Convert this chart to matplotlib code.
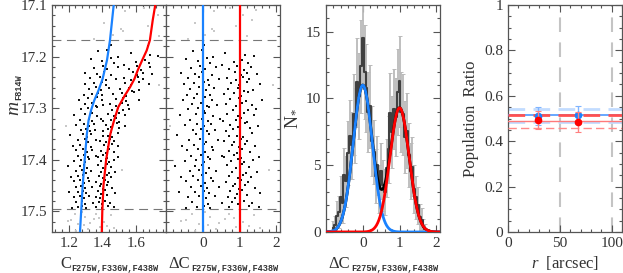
import numpy as np
import matplotlib
matplotlib.use("Agg")
import matplotlib.pyplot as plt
from matplotlib.ticker import MultipleLocator, FixedLocator, FuncFormatter

plt.rcParams['font.family'] = ['Liberation Serif', 'DejaVu Serif']
plt.rcParams['mathtext.fontset'] = 'custom'
plt.rcParams['mathtext.rm'] = 'Liberation Serif'
plt.rcParams['mathtext.it'] = 'Liberation Serif:italic'

TXT = '#333333'
SP = '#555555'
BLUE = '#1a82ff'
RED = '#ff0000'

# ---------------- data ----------------
# fiducial lines (m_F814W, C)
blue_m = [17.10, 17.168, 17.207, 17.243, 17.265, 17.285, 17.304, 17.324, 17.35, 17.40, 17.45, 17.50, 17.54]
blue_c = [1.468, 1.446, 1.428, 1.402, 1.378, 1.352, 1.333, 1.318, 1.308, 1.295, 1.283, 1.274, 1.267]
red_m = [17.10, 17.129, 17.168, 17.188, 17.207, 17.226, 17.243, 17.259, 17.275, 17.298, 17.324, 17.35, 17.40, 17.45, 17.50, 17.54]
red_c = [1.716, 1.701, 1.684, 1.665, 1.638, 1.612, 1.592, 1.566, 1.535, 1.495, 1.47, 1.448, 1.423, 1.407, 1.400, 1.397]

# selected stars (m_F814W, Delta C)
star_m = [
 17.190, 17.187, 17.178, 17.200, 17.194, 17.180, 17.197, 17.199,
 17.205, 17.208, 17.203, 17.212, 17.217, 17.210, 17.206, 17.213,
 17.222, 17.219, 17.225, 17.221, 17.224, 17.218, 17.226, 17.220,
 17.231, 17.233, 17.229, 17.235, 17.230, 17.236, 17.232, 17.234,
 17.242, 17.240, 17.245, 17.243, 17.241, 17.246, 17.239, 17.244,
 17.252, 17.250, 17.255, 17.254, 17.251, 17.256, 17.249, 17.253,
 17.262, 17.259, 17.265, 17.261, 17.263, 17.260, 17.266, 17.264,
 17.272, 17.270, 17.275, 17.274, 17.271, 17.276, 17.269, 17.273,
 17.285, 17.281, 17.279, 17.284, 17.282, 17.280, 17.286, 17.285,
 17.292, 17.290, 17.295, 17.293, 17.291, 17.296, 17.289, 17.294,
 17.302, 17.300, 17.305, 17.298, 17.303, 17.299, 17.304, 17.301,
 17.312, 17.310, 17.315, 17.313, 17.311, 17.316, 17.309, 17.314,
 17.322, 17.320, 17.325, 17.321, 17.323, 17.319, 17.326, 17.324,
 17.332, 17.330, 17.335, 17.331, 17.333, 17.336, 17.329, 17.334,
 17.342, 17.340, 17.345, 17.343, 17.341, 17.346, 17.339, 17.344,
 17.352, 17.350, 17.355, 17.351, 17.353, 17.356, 17.349, 17.354,
 17.362, 17.360, 17.365, 17.361, 17.363, 17.366, 17.359, 17.364,
 17.372, 17.370, 17.375, 17.374, 17.371, 17.376, 17.369, 17.373,
 17.382, 17.380, 17.385, 17.381, 17.383, 17.386, 17.379, 17.384,
 17.392, 17.390, 17.395, 17.393, 17.391, 17.396, 17.395, 17.394,
 17.402, 17.400, 17.405, 17.398, 17.403, 17.399, 17.404, 17.401,
 17.412, 17.410, 17.415, 17.413, 17.411, 17.416, 17.409, 17.414,
 17.422, 17.420, 17.425, 17.421, 17.423, 17.419, 17.426, 17.424,
 17.432, 17.430, 17.435, 17.434, 17.431, 17.436, 17.429, 17.433,
 17.442, 17.440, 17.445, 17.441, 17.443, 17.446, 17.439, 17.444,
 17.452, 17.450, 17.455, 17.453, 17.451, 17.456, 17.449, 17.454,
 17.462, 17.460, 17.465, 17.463, 17.461, 17.466, 17.459, 17.464,
 17.472, 17.470, 17.475, 17.471, 17.473, 17.476, 17.469, 17.474,
 17.482, 17.480, 17.485, 17.483, 17.481, 17.486, 17.479, 17.484,
 17.492, 17.490, 17.494, 17.493, 17.491, 17.494, 17.489, 17.492]
star_dc = [
 -0.27, -0.03, 0.04, 0.29, 0.61, 1.00, 1.16, 1.39,
 -0.46, -0.13, 0.11, 0.21, 0.53, 0.84, 1.07, 1.23,
 -0.33, -0.07, 0.06, 0.37, 0.71, 0.93, 1.11, 1.31,
 -0.58, -0.21, -0.01, 0.24, 0.87, 1.03, 1.19, 1.47,
 -0.41, -0.09, 0.13, 0.43, 0.66, 0.91, 1.09, 1.27,
 -0.23, 0.03, 0.17, -0.51, 0.77, 0.99, 1.21, 1.56,
 -0.34, -0.11, 0.09, 0.31, 0.69, 0.97, 1.13, 1.36,
 -0.16, 0.01, 0.19, -0.44, 0.86, 1.05, 1.24, 0.57,
 -0.54, -0.24, 0.05, 0.26, 0.74, 0.98, 1.17, 1.60,
 -0.29, -0.05, 0.12, 0.39, 0.63, 0.89, 1.06, 1.33,
 -0.39, -0.14, 0.02, 0.18, 0.81, 1.01, 1.23, 1.44,
 -0.19, 0.07, 0.27, -0.63, 0.67, 0.95, 1.11, 1.38,
 -0.36, -0.02, 0.15, 0.46, 0.89, 1.04, 1.19, 0.55,
 -0.47, -0.16, 0.04, 0.23, 0.73, 0.96, 1.14, 1.51,
 -0.27, -0.06, 0.11, 0.34, 0.83, 1.02, 1.28, 0.64,
 -0.71, -0.18, 0.01, 0.16, 0.92, 1.09, 1.34, 0.72,
 -0.37, -0.08, 0.08, 0.41, 0.59, 0.86, 1.03, 1.21,
 -0.25, 0.02, 0.24, -0.56, 0.79, 0.99, 1.16, 1.43,
 -0.43, -0.12, 0.06, 0.29, 0.70, 0.94, 1.07, 1.29,
 -0.31, -0.04, 0.13, 0.51, 0.84, 1.04, 1.52, 0.58,
 -0.49, -0.19, 0.04, 0.21, 0.76, 0.97, 1.12, 1.37,
 -0.22, -0.01, 0.16, -0.76, 0.66, 0.91, 1.06, 1.25,
 -0.35, -0.10, 0.10, 0.36, 0.80, 1.00, 1.18, 1.47,
 -0.26, -0.02, 0.22, -0.59, 0.72, 0.95, 1.10, 1.31,
 -0.45, -0.14, 0.07, 0.28, 0.62, 0.87, 1.03, 1.22,
 -0.32, -0.06, 0.12, 0.44, 0.82, 0.98, 1.15, 1.41,
 -0.20, 0.02, 0.18, -0.66, 0.75, 0.92, 1.08, 1.55,
 -0.40, -0.10, 0.08, 0.33, 0.68, 1.01, 1.20, 0.88,
 -0.28, 0.00, 0.14, 0.52, 0.80, 0.96, 1.12, 1.34,
 -0.16, 0.04, 0.20, -0.46, 0.70, 1.00, 1.25, 1.53]

# other (non selected) stars, grey
grey_m = [17.106, 17.110, 17.146, 17.150, 17.112, 17.120, 17.135, 17.160, 17.165, 17.130, 17.140, 17.158,
          17.505, 17.510, 17.515, 17.520, 17.525, 17.530, 17.508, 17.518, 17.535, 17.512, 17.528, 17.502,
          17.538, 17.522, 17.532, 17.516, 17.506, 17.526, 17.255, 17.335, 17.420]
grey_dc = [0.74, 1.46, 0.24, 0.30, 0.30, 1.10, -0.20, 1.20, -0.40, 1.35, 0.90, 0.05,
           -0.30, 0.20, 0.60, 1.10, -0.10, 0.90, 1.40, -0.60, 0.35, 0.85, 1.25, 0.05,
           -0.20, 0.45, 1.55, -0.45, 0.70, 0.15, 1.90, -0.90, 1.80]

# histogram of Delta C
hist_x = [-0.80, -0.75, -0.70, -0.65, -0.60, -0.55, -0.50, -0.45, -0.40, -0.35, -0.30, -0.25, -0.20,
          -0.15, -0.10, -0.05, 0.00, 0.05, 0.10, 0.15, 0.20, 0.25, 0.30, 0.35, 0.40, 0.45, 0.50,
          0.55, 0.60, 0.65, 0.70, 0.75, 0.80, 0.85, 0.90, 0.95, 1.00, 1.05, 1.10, 1.15, 1.20,
          1.25, 1.30, 1.35, 1.40, 1.45, 1.50, 1.55, 1.60, 1.65, 1.70]
hist_n = [0.3, 0.5, 1.2, 1.5, 2.6, 2.2, 4.3, 3.8, 5.9, 7.2, 6.5, 8.8, 8.0,
          11.2, 10.2, 12.4, 14.5, 12.0, 10.8, 9.0, 9.4, 6.8, 6.0, 4.2, 5.0, 3.2, 4.6,
          3.5, 3.0, 4.8, 6.2, 8.9, 7.5, 9.2, 8.6, 10.5, 11.3, 9.0, 8.8, 7.1, 7.6,
          5.8, 4.6, 4.9, 3.2, 2.6, 2.0, 1.1, 0.9, 0.4, 0.2]
hist_err = [0.5, 0.7, 1.1, 1.2, 1.6, 1.5, 2.0, 1.9, 2.4, 2.7, 2.5, 3.0, 2.8,
            3.3, 3.2, 3.5, 3.8, 3.5, 3.3, 3.0, 3.1, 2.6, 2.4, 2.0, 2.2, 1.8, 2.1,
            1.9, 1.7, 2.2, 2.5, 3.0, 2.7, 3.0, 2.9, 3.2, 3.4, 3.0, 3.0, 2.7, 2.8,
            2.4, 2.1, 2.2, 1.8, 1.6, 1.4, 1.0, 0.9, 0.6, 0.4]

# two-gaussian fit parameters (amplitude, centre, sigma)
fit_blue = (11.0, 0.0, 0.26)
fit_red = (9.3, 1.0, 0.26)

# population ratios vs radius
r_pts = [29.0, 68.0]
ratio_blue = [0.511, 0.517]
ratio_blue_err = [0.040, 0.040]
ratio_red = [0.493, 0.485]
ratio_red_err = [0.040, 0.045]
mean_blue, sig_blue = 0.514, 0.030
mean_red, sig_red = 0.487, 0.030
r_bounds = [50, 100]

# ---------------- figure ----------------
W, H = 623, 273
fig = plt.figure(figsize=(W / 100, H / 100), dpi=100)
renderer = fig.canvas.get_renderer()

def axpos(x0, x1, y0=5, y1=232):
    return [x0 / W, 1 - y1 / H, (x1 - x0) / W, (y1 - y0) / H]

ax1 = fig.add_axes(axpos(52, 166))
ax2 = fig.add_axes(axpos(166, 280))
ax3 = fig.add_axes(axpos(326, 440))
ax4 = fig.add_axes(axpos(508, 622))

def style(ax):
    for s in ax.spines.values():
        s.set_color(SP)
        s.set_linewidth(0.9)
    ax.tick_params(which='both', direction='in', top=True, right=True,
                   color=SP, labelcolor=TXT, labelsize=11, width=0.8)
    ax.tick_params(which='major', length=5)
    ax.tick_params(which='minor', length=2.5)

SUBFONT = dict(family='Liberation Mono', fontsize=6.2, weight='bold', color=TXT)

def hlabel(xc, yb, main, sub, ms=12):
    t1 = fig.text(0, 0, main, fontsize=ms, color=TXT, ha='left', va='baseline')
    t2 = fig.text(0, 0, sub, ha='left', va='baseline', **SUBFONT)
    w1 = t1.get_window_extent(renderer).width
    w2 = t2.get_window_extent(renderer).width
    x0 = xc - (w1 + w2) / 2
    t1.set_position((x0 / W, 1 - yb / H))
    t2.set_position(((x0 + w1 + 0.5) / W, 1 - (yb + 3) / H))

def vlabel(xb, yc, main, sub, ms=14, style_='italic'):
    t1 = fig.text(0, 0, main, fontsize=ms, color=TXT, style=style_, rotation=90,
                  rotation_mode='anchor', ha='left', va='baseline')
    t2 = fig.text(0, 0, sub, rotation=90, rotation_mode='anchor', ha='left',
                  va='baseline', **SUBFONT)
    h1 = t1.get_window_extent(renderer).height
    h2 = t2.get_window_extent(renderer).height
    y0 = yc + (h1 + h2) / 2
    t1.set_position((xb / W, 1 - y0 / H))
    t2.set_position(((xb + 3) / W, 1 - (y0 - h1 - 1) / H))

# panel 1: colour-magnitude-like diagram
bm = np.array(blue_m); bc = np.array(blue_c)
rm = np.array(red_m); rc = np.array(red_c)
sm = np.array(star_m); sdc = np.array(star_dc)
gm = np.array(grey_m); gdc = np.array(grey_dc)

def to_c(m, dc):
    cb = np.interp(m, bm, bc)
    cr = np.interp(m, rm, rc)
    return cb + dc * (cr - cb)

for ax in (ax1, ax2):
    ax.axhline(17.168, color='#777777', lw=0.8, ls=(0, (8, 5)), zorder=1)
    ax.axhline(17.496, color='#777777', lw=0.8, ls=(0, (8, 5)), zorder=1)

ax1.scatter(to_c(gm, gdc), gm, s=1.2, color='#c8c8c8', lw=0, marker='s', zorder=2)
ax1.scatter(to_c(sm, sdc), sm, s=2.6, color='#111111', lw=0, marker='s', zorder=3)
ax1.plot(bc, bm, color=BLUE, lw=1.6, zorder=4)
ax1.plot(rc, rm, color=RED, lw=1.6, zorder=4)
ax1.set_xlim(1.1, 1.78)
ax1.set_ylim(17.54, 17.1)
ax1.xaxis.set_major_locator(FixedLocator([1.2, 1.4, 1.6]))
ax1.xaxis.set_minor_locator(MultipleLocator(0.04))
ax1.yaxis.set_major_locator(MultipleLocator(0.1))
ax1.yaxis.set_minor_locator(MultipleLocator(0.02))
style(ax1)

# panel 2: verticalized
ax2.scatter(gdc, gm, s=1.2, color='#c8c8c8', lw=0, marker='s', zorder=2)
ax2.scatter(sdc, sm, s=2.6, color='#111111', lw=0, marker='s', zorder=3)
ax2.axvline(0, color=BLUE, lw=1.6, zorder=4)
ax2.axvline(1, color=RED, lw=1.6, zorder=4)
ax2.set_xlim(-1, 2.1)
ax2.set_ylim(17.54, 17.1)
ax2.xaxis.set_major_locator(FixedLocator([0, 1, 2]))
ax2.xaxis.set_minor_locator(MultipleLocator(0.2))
ax2.yaxis.set_major_locator(MultipleLocator(0.1))
ax2.yaxis.set_minor_locator(MultipleLocator(0.02))
style(ax2)
ax2.tick_params(labelleft=False)

# panel 3: histogram
hx = np.array(hist_x); hn = np.array(hist_n); he = np.array(hist_err)
ax3.errorbar(hx, hn, yerr=he, fmt='none', ecolor='#bababa', elinewidth=1.3,
             capsize=1.6, capthick=0.7, zorder=2)
ax3.step(hx, hn, where='mid', color='#404040', lw=1.5, zorder=3)
xx = np.linspace(-1, 2.1, 400)
gb = fit_blue[0] * np.exp(-0.5 * ((xx - fit_blue[1]) / fit_blue[2]) ** 2)
gr = fit_red[0] * np.exp(-0.5 * ((xx - fit_red[1]) / fit_red[2]) ** 2)
ax3.plot(xx, gb + gr, color='black', lw=2.0, zorder=4)
ax3.plot(xx, gb, color=BLUE, lw=2.0, zorder=5)
ax3.plot(xx, gr, color=RED, lw=2.0, zorder=6)
ax3.set_xlim(-1, 2.1)
ax3.set_ylim(0, 17)
ax3.xaxis.set_major_locator(FixedLocator([0, 1, 2]))
ax3.xaxis.set_minor_locator(MultipleLocator(0.2))
ax3.yaxis.set_major_locator(MultipleLocator(5))
ax3.yaxis.set_minor_locator(MultipleLocator(1))
style(ax3)
ax3.set_ylabel(r'$\mathrm{N}_{*}$', fontsize=13, color=TXT, labelpad=4)

# panel 4: population ratio
for rb in r_bounds:
    ax4.axvline(rb, color='#c4c4c4', lw=1.5, ls=(0, (7, 5)), zorder=1)
ax4.axhline(mean_blue + sig_blue, color='#c2dcff', lw=2.0, ls=(0, (6, 3)), zorder=2)
ax4.axhline(mean_blue - sig_blue, color='#c2dcff', lw=2.0, ls=(0, (6, 3)), zorder=2)
ax4.axhline(mean_blue, color='#3d8fff', lw=1.1, zorder=3)
ax4.axhline(mean_red, color='#ff7a7a', lw=1.0, zorder=3)
ax4.axhline(mean_red + sig_red, color='#ff5050', lw=2.0, ls=(0, (6, 3)), zorder=3)
ax4.axhline(mean_red - sig_red, color='#ff8a8a', lw=1.0, ls=(0, (6, 3)), zorder=3)
ax4.errorbar(r_pts, ratio_blue, yerr=ratio_blue_err, fmt='o', color=BLUE, ms=4.5,
             ecolor='#7fb4ff', elinewidth=1.0, capsize=2.5, capthick=0.8, zorder=5)
ax4.errorbar(r_pts, ratio_red, yerr=ratio_red_err, fmt='o', color=RED, ms=4.5,
             ecolor='#ff8080', elinewidth=1.0, capsize=2.5, capthick=0.8, zorder=6)
ax4.set_xlim(0, 110)
ax4.set_ylim(0, 1)
ax4.xaxis.set_major_locator(FixedLocator([0, 50, 100]))
ax4.xaxis.set_minor_locator(MultipleLocator(10))
ax4.yaxis.set_major_locator(FixedLocator([0, 0.2, 0.4, 0.6, 0.8, 1.0]))
ax4.yaxis.set_minor_locator(MultipleLocator(0.05))
ax4.yaxis.set_major_formatter(FuncFormatter(lambda v, p: '%g' % round(v, 2)))
style(ax4)
ax4.set_xlabel(r'$r$  [arcsec]', fontsize=12, color=TXT, labelpad=3)
ax4.set_ylabel('Population  Ratio', fontsize=12, color=TXT, labelpad=4)

# composite labels with small subscripts
hlabel(109, 268, 'C', 'F275W,F336W,F438W')
hlabel(223, 268, '\u0394C', 'F275W,F336W,F438W')
hlabel(383, 268, '\u0394C', 'F275W,F336W,F438W')
vlabel(18, 95, 'm', 'F814W')

fig.savefig('out.png', dpi=100)
